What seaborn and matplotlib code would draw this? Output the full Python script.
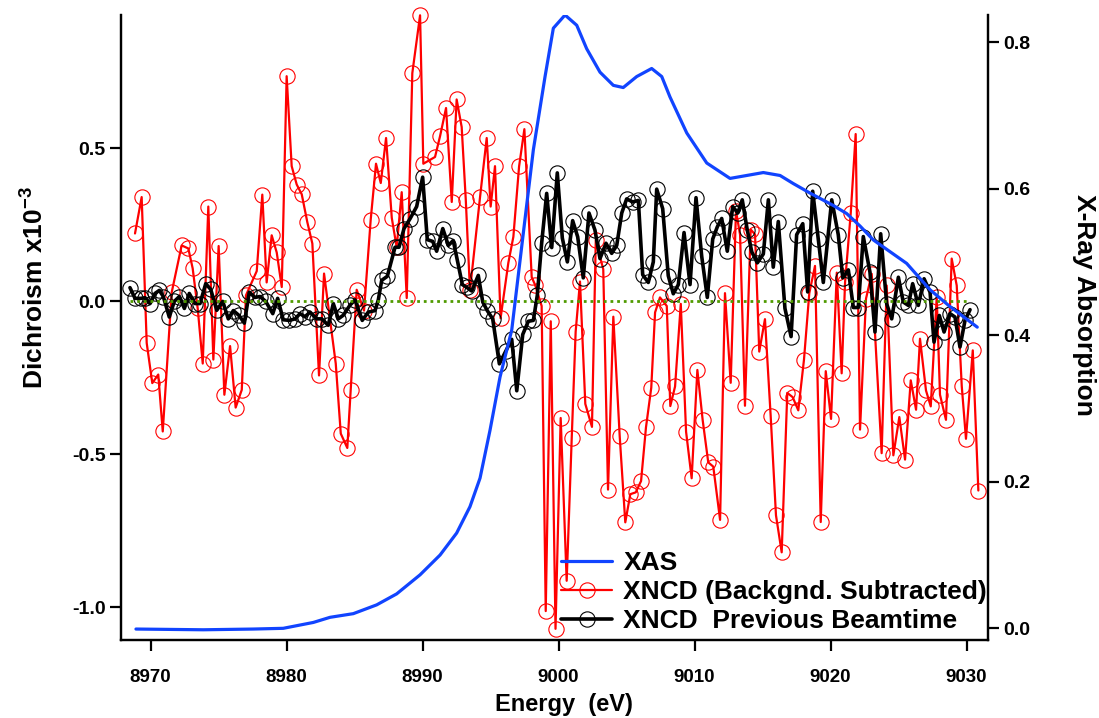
import numpy as np
import pandas as pd
import matplotlib
matplotlib.use("Agg")
import matplotlib.pyplot as plt
import seaborn as sns

# XNCD, background subtracted (left axis, x10^-3)
energy_xncd = [8968.86, 8969.35, 8969.72, 8970.13, 8970.57, 8970.90, 8971.56, 8972.29, 8972.78, 8973.10,
               8973.47, 8973.84, 8974.25, 8974.62, 8975.01, 8975.43, 8975.85, 8976.26, 8976.71, 8977.02,
               8977.81, 8978.22, 8978.54, 8978.91, 8979.28, 8979.65, 8980.01, 8980.38, 8980.75, 8981.12,
               8981.53, 8981.90, 8982.39, 8982.76, 8983.62, 8983.99, 8984.47, 8984.72, 8985.16, 8985.70,
               8986.19, 8986.58, 8986.93, 8987.32, 8987.74, 8988.10, 8988.47, 8988.84, 8989.25, 8989.82,
               8990.06, 8990.92, 8991.29, 8991.73, 8992.15, 8992.51, 8992.88, 8993.18, 8993.49, 8994.23,
               8994.72, 8995.01, 8995.33, 8995.74, 8996.31, 8996.68, 8997.10, 8997.49, 8998.03, 8998.27,
               8998.76, 8999.06, 8999.43, 8999.78, 9000.16, 9000.60, 9000.97, 9001.26, 9001.58, 9001.97,
               9002.46, 9002.74, 9003.29, 9003.64, 9004.03, 9004.50, 9004.91, 9005.28, 9005.68, 9006.07,
               9006.43, 9006.82, 9007.10, 9007.46, 9007.96, 9008.22, 9008.57, 9008.99, 9009.38, 9009.79,
               9010.21, 9010.60, 9011.01, 9011.38, 9011.88, 9012.24, 9012.66, 9013.05, 9013.35, 9013.71,
               9014.13, 9014.45, 9014.76, 9015.18, 9015.60, 9015.99, 9016.41, 9016.82, 9017.22, 9017.63,
               9018.05, 9018.44, 9018.86, 9019.28, 9019.65, 9020.04, 9020.46, 9020.82, 9021.07, 9021.49,
               9021.85, 9022.17, 9022.61, 9023.03, 9023.76, 9024.13, 9024.62, 9025.06, 9025.48, 9025.90,
               9026.29, 9026.58, 9027.02, 9027.37, 9027.81, 9028.05, 9028.49, 9028.91, 9029.28, 9029.65,
               9029.96, 9030.46, 9030.87]
xncd = [0.222, 0.341, -0.136, -0.267, -0.239, -0.425, 0.030, 0.183, 0.173, 0.108,
        -0.023, -0.203, 0.310, -0.190, 0.181, -0.305, -0.146, -0.347, -0.289, 0.020,
        0.099, 0.349, 0.062, 0.216, 0.160, 0.047, 0.736, 0.442, 0.382, 0.350,
        0.259, 0.189, -0.242, 0.091, -0.203, -0.432, -0.479, -0.289, 0.038, -0.030,
        0.267, 0.450, 0.387, 0.534, 0.273, 0.177, 0.357, 0.011, 0.746, 0.935,
        0.450, 0.472, 0.540, 0.632, 0.325, 0.660, 0.570, 0.333, 0.036, 0.341,
        0.534, 0.310, 0.442, -0.055, 0.126, 0.211, 0.441, 0.563, 0.079, 0.055,
        -0.015, -1.012, -0.065, -1.070, -0.381, -0.913, -0.448, -0.099, 0.065, -0.335,
        -0.410, 0.200, 0.105, -0.615, -0.050, -0.441, -0.722, -0.630, -0.624, -0.587,
        -0.412, -0.282, -0.036, 0.013, -0.015, -0.342, -0.278, -0.008, -0.426, -0.578,
        -0.224, -0.388, -0.526, -0.540, -0.714, 0.027, -0.266, 0.296, 0.218, -0.341,
        0.235, 0.219, -0.164, -0.058, -0.374, -0.699, -0.820, -0.299, -0.313, -0.356,
        -0.190, 0.027, 0.116, -0.721, -0.228, -0.384, 0.094, -0.235, 0.062, 0.290,
        0.547, -0.419, 0.009, 0.090, -0.496, 0.052, -0.503, -0.378, -0.517, -0.258,
        -0.354, -0.122, -0.291, -0.343, 0.014, -0.305, -0.387, 0.140, 0.052, -0.277,
        -0.449, -0.160, -0.618]

# XNCD from the previous beamtime (left axis)
energy_prev = [8968.49, 8968.86, 8969.28, 8969.60, 8969.96, 8970.33, 8970.65, 8970.94, 8971.38, 8971.75,
               8972.12, 8972.49, 8972.85, 8973.27, 8973.64, 8974.06, 8974.43, 8974.87, 8975.31, 8975.72,
               8976.09, 8976.51, 8976.90, 8977.26, 8977.68, 8978.05, 8978.47, 8978.99, 8979.35, 8979.76,
               8980.21, 8980.63, 8980.99, 8981.36, 8981.73, 8982.22, 8982.59, 8983.07, 8983.44, 8983.81,
               8984.18, 8984.67, 8985.04, 8985.57, 8986.01, 8986.51, 8986.75, 8987.00, 8987.41, 8987.98,
               8988.27, 8988.64, 8989.08, 8989.57, 8990.01, 8990.35, 8990.75, 8991.04, 8991.49, 8991.90,
               8992.26, 8992.56, 8992.93, 8993.25, 8993.62, 8994.10, 8994.43, 8994.76, 8995.16, 8995.65,
               8996.14, 8996.56, 8996.93, 8997.37, 8997.78, 8998.15, 8998.44, 8998.76, 8999.13, 8999.50,
               8999.91, 9000.28, 9000.65, 9001.04, 9001.41, 9001.82, 9002.24, 9002.68, 9003.05, 9003.49,
               9003.91, 9004.28, 9004.65, 9005.01, 9005.46, 9005.87, 9006.19, 9006.60, 9006.97, 9007.22,
               9007.66, 9008.07, 9008.44, 9008.81, 9009.23, 9009.67, 9010.11, 9010.53, 9010.94, 9011.34,
               9011.68, 9012.00, 9012.41, 9012.81, 9013.18, 9013.51, 9013.88, 9014.21, 9014.62, 9015.06,
               9015.43, 9015.79, 9016.16, 9016.65, 9017.10, 9017.51, 9017.96, 9018.32, 9018.69, 9019.10,
               9019.47, 9020.09, 9020.57, 9020.90, 9021.31, 9021.68, 9022.04, 9022.41, 9022.90, 9023.27,
               9023.69, 9024.13, 9024.50, 9024.99, 9025.35, 9025.72, 9026.04, 9026.46, 9026.88, 9027.32,
               9027.61, 9028.00, 9028.35, 9028.79, 9029.15, 9029.52, 9029.89, 9030.26]
xncd_prev = [0.045, 0.010, 0.010, 0.012, -0.007, 0.026, 0.036, 0.016, -0.051, 0.000,
             0.016, -0.023, 0.026, -0.007, -0.007, 0.058, 0.039, -0.029, 0.000, -0.057,
             -0.030, -0.046, -0.071, 0.030, 0.013, 0.016, 0.000, -0.040, 0.010, -0.060,
             -0.062, -0.057, -0.040, -0.050, -0.035, -0.057, -0.057, -0.078, -0.007, -0.057,
             -0.045, -0.012, 0.005, -0.062, -0.035, -0.030, 0.005, 0.069, 0.082, 0.177,
             0.177, 0.238, 0.270, 0.310, 0.406, 0.202, 0.196, 0.164, 0.238, 0.183,
             0.199, 0.134, 0.055, 0.046, 0.034, 0.085, -0.002, -0.030, -0.057, -0.204,
             -0.161, -0.124, -0.292, -0.108, -0.065, -0.062, 0.020, 0.190, 0.353, 0.176,
             0.420, 0.207, 0.129, 0.264, 0.211, 0.077, 0.289, 0.233, 0.140, 0.190,
             0.157, 0.183, 0.289, 0.335, 0.325, 0.330, 0.087, 0.062, 0.129, 0.367,
             0.303, 0.084, 0.025, 0.055, 0.225, 0.055, 0.339, 0.147, 0.013, 0.204,
             0.244, 0.271, 0.164, 0.310, 0.289, 0.332, 0.233, 0.162, 0.126, 0.155,
             0.332, 0.112, 0.261, -0.023, -0.115, 0.218, 0.254, 0.031, 0.360, 0.204,
             0.062, 0.332, 0.218, 0.077, 0.103, -0.020, -0.020, 0.212, 0.096, -0.100,
             0.221, -0.008, -0.057, 0.079, -0.002, -0.013, 0.058, -0.013, 0.074, 0.030,
             -0.133, -0.046, -0.100, -0.040, -0.051, -0.149, -0.062, -0.027]

# XAS (right axis)
energy_xas = [8968.93, 8973.88, 8977.56, 8979.76, 8981.97, 8983.20, 8984.91, 8986.63, 8988.10, 8989.82,
              8991.29, 8992.51, 8993.49, 8994.23, 8994.96, 8995.70, 8996.56, 8997.41, 8998.15, 8999.01,
              8999.62, 9000.48, 9001.34, 9002.07, 9003.05, 9004.03, 9004.76, 9005.75, 9006.85, 9007.59,
              9008.20, 9009.43, 9010.90, 9012.61, 9013.84, 9015.06, 9016.29, 9017.26, 9018.49, 9020.21,
              9021.19, 9022.17, 9023.15, 9025.60, 9027.32, 9028.79, 9030.79]
xas = [-0.001, -0.002, -0.001, 0.000, 0.008, 0.015, 0.020, 0.032, 0.047, 0.073,
       0.100, 0.130, 0.166, 0.205, 0.270, 0.343, 0.407, 0.539, 0.653, 0.753,
       0.819, 0.837, 0.823, 0.791, 0.759, 0.741, 0.738, 0.753, 0.764, 0.753,
       0.725, 0.676, 0.635, 0.614, 0.618, 0.622, 0.618, 0.607, 0.594, 0.577,
       0.566, 0.549, 0.530, 0.498, 0.462, 0.439, 0.411]

df_xncd = pd.DataFrame({"energy": energy_xncd, "dichroism": xncd})
df_prev = pd.DataFrame({"energy": energy_prev, "dichroism": xncd_prev})
df_xas = pd.DataFrame({"energy": energy_xas, "absorption": xas})

sns.set_style("ticks")
plt.rcParams["font.family"] = ["Liberation Sans", "DejaVu Sans"]
plt.rcParams["font.weight"] = "bold"
plt.rcParams["axes.unicode_minus"] = False
plt.rcParams["mathtext.fontset"] = "custom"
plt.rcParams["mathtext.rm"] = "Liberation Sans:bold"
plt.rcParams["mathtext.default"] = "rm"
for key in ("text.color", "axes.labelcolor", "axes.edgecolor", "xtick.color", "ytick.color"):
    plt.rcParams[key] = "black"

fig = plt.figure(figsize=(10.99, 7.18), dpi=100)
ax = fig.add_axes([0.1101, 0.1093, 0.7889, 0.8698])

sns.lineplot(data=df_xncd, x="energy", y="dichroism", ax=ax, estimator=None,
             color="#ff0000", lw=1.6, marker="o", markersize=11,
             markerfacecolor="none", markeredgecolor="#ff0000", markeredgewidth=0.8,
             label="XNCD (Backgnd. Subtracted)", clip_on=False, zorder=2)
sns.lineplot(data=df_prev, x="energy", y="dichroism", ax=ax, estimator=None,
             color="#000000", lw=2.6, marker="o", markersize=11,
             markerfacecolor="none", markeredgecolor="#000000", markeredgewidth=0.8,
             label="XNCD  Previous Beamtime", zorder=3)
ax.hlines(0, min(energy_prev), max(energy_prev), colors="#4f9a00",
          linestyles=(0, (1, 1.4)), lw=2.0, zorder=4)

ax2 = ax.twinx()
sns.lineplot(data=df_xas, x="energy", y="absorption", ax=ax2, estimator=None,
             color="#1144ff", lw=2.3, label="XAS")

ax.set_xlim(8967.83, 9031.58)
ax.set_ylim(-1.105, 0.936)
ax2.set_ylim(-0.0153, 0.837)
ax.set_xticks(np.arange(8970, 9031, 10))
ax.set_yticks([-1.0, -0.5, 0.0, 0.5])
ax2.set_yticks([0.0, 0.2, 0.4, 0.6, 0.8])
ax.ticklabel_format(axis="x", useOffset=False)

for a in (ax, ax2):
    a.spines["top"].set_visible(False)
    for s in ("left", "right", "bottom"):
        a.spines[s].set_linewidth(1.6)
        a.spines[s].set_color("black")
ax.tick_params(axis="x", direction="out", length=8, width=1.6, labelsize=13.5, pad=13)
ax.tick_params(axis="y", direction="out", length=8, width=1.6, labelsize=14, pad=3)
ax2.tick_params(axis="y", direction="out", length=8, width=1.6, labelsize=14, pad=3)

ax.set_xlabel("Energy  (eV)", fontsize=17, fontweight="bold")
ax.xaxis.set_label_coords(0.511, -0.086)
ax.set_ylabel(r"Dichroism x10$^{-3}$", fontsize=19, fontweight="bold")
ax.yaxis.set_label_coords(-0.084, 0.563)
ax2.set_ylabel("X-Ray Absorption", fontsize=19, fontweight="bold",
               rotation=270, va="bottom")
ax2.yaxis.set_label_coords(1.097, 0.536)

h1, l1 = ax.get_legend_handles_labels()
h2, l2 = ax2.get_legend_handles_labels()
ax.get_legend().remove()
ax2.get_legend().remove()
ax2.legend(h2 + h1, l2 + l1, loc="lower left", bbox_to_anchor=(0.508, 0.01),
           frameon=False, prop={"size": 19, "weight": "bold"}, handlelength=1.9,
           handletextpad=0.45, labelspacing=0.19, borderaxespad=0, borderpad=0)

fig.savefig("out.png", dpi=100)
